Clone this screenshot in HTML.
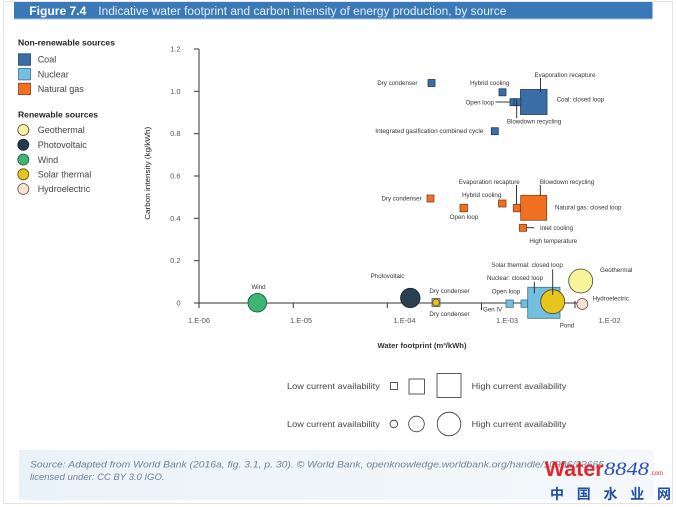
<!DOCTYPE html>
<html><head><meta charset="utf-8"><style>
html,body{margin:0;padding:0;background:#fff;}
svg{display:block;font-family:"Liberation Sans","Noto Sans CJK SC",sans-serif;}
</style></head><body>
<svg width="676" height="507" viewBox="0 0 676 507" xmlns="http://www.w3.org/2000/svg">
<defs>
<linearGradient id="src" x1="0" x2="1" y1="0" y2="0">
<stop offset="0" stop-color="#eaf2f9"/><stop offset="1" stop-color="#f4f8fb"/>
</linearGradient>
</defs>
<rect x="3.5" y="1.5" width="669" height="502" fill="#fff" stroke="#e4e4e4" stroke-width="1"/>
<!-- header -->
<rect x="14" y="2" width="638.5" height="16.5" fill="#3b78b8"/>
<rect x="14" y="18.5" width="638.5" height="1" fill="#a9c6e4"/>
<text x="29.3" y="15" font-size="12" font-weight="bold" fill="#fff" textLength="57" lengthAdjust="spacingAndGlyphs">Figure 7.4</text>
<text x="98.3" y="15" font-size="11.5" fill="#e8f0f8" textLength="408" lengthAdjust="spacingAndGlyphs">Indicative water footprint and carbon intensity of energy production, by source</text>

<!-- left legend -->
<text x="18" y="45.7" font-size="8.5" font-weight="bold" fill="#222" textLength="97" lengthAdjust="spacingAndGlyphs">Non-renewable sources</text>
<rect x="18.5" y="53.8" width="12" height="11.5" fill="#3b6ea6" stroke="#233f5f" stroke-width="0.8"/>
<rect x="18.5" y="68.4" width="12" height="11.5" fill="#73bfe0" stroke="#3e7590" stroke-width="0.8"/>
<rect x="18.5" y="83.2" width="12" height="11.5" fill="#f26f21" stroke="#7a4420" stroke-width="0.8"/>
<g font-size="9" fill="#444">
<text x="37.7" y="62.5">Coal</text>
<text x="37.7" y="77.3">Nuclear</text>
<text x="37.7" y="92.1">Natural gas</text>
</g>
<text x="18" y="117.3" font-size="8.5" font-weight="bold" fill="#222" textLength="80" lengthAdjust="spacingAndGlyphs">Renewable sources</text>
<circle cx="23.3" cy="130" r="5.5" fill="#f7f49a" stroke="#444" stroke-width="0.8"/>
<circle cx="23.3" cy="144.8" r="5.5" fill="#253a4e" stroke="#1a2633" stroke-width="0.8"/>
<circle cx="23.3" cy="159.6" r="5.5" fill="#3fb574" stroke="#1f5a3a" stroke-width="0.8"/>
<circle cx="23.3" cy="174.3" r="5.5" fill="#e8c41e" stroke="#5c4e10" stroke-width="0.8"/>
<circle cx="23.3" cy="189" r="5.5" fill="#fbe2d0" stroke="#555" stroke-width="0.8"/>
<g font-size="9" fill="#444">
<text x="37.7" y="133.2">Geothermal</text>
<text x="37.7" y="148">Photovoltaic</text>
<text x="37.7" y="162.8">Wind</text>
<text x="37.7" y="177.5">Solar thermal</text>
<text x="37.7" y="192.2">Hydroelectric</text>
</g>

<!-- axes -->
<g stroke="#333" stroke-width="1">
<line x1="199" y1="49" x2="199" y2="303"/>
<line x1="194" y1="303" x2="577" y2="303"/>
<line x1="194" y1="49" x2="199" y2="49"/>
<line x1="194" y1="91.3" x2="199" y2="91.3"/>
<line x1="194" y1="133.7" x2="199" y2="133.7"/>
<line x1="194" y1="176" x2="199" y2="176"/>
<line x1="194" y1="218.3" x2="199" y2="218.3"/>
<line x1="194" y1="260.7" x2="199" y2="260.7"/>
<line x1="199" y1="303" x2="199" y2="308"/>
<line x1="293.3" y1="303" x2="293.3" y2="308"/>
<line x1="387.3" y1="303" x2="387.3" y2="308"/>
<line x1="481.5" y1="303" x2="481.5" y2="310"/>
<line x1="575" y1="301" x2="575" y2="308"/>
</g>
<g font-size="7.5" fill="#555" text-anchor="end">
<text x="180.5" y="51.6">1.2</text>
<text x="180.5" y="93.9">1.0</text>
<text x="180.5" y="136.2">0.8</text>
<text x="180.5" y="178.5">0.6</text>
<text x="180.5" y="220.8">0.4</text>
<text x="180.5" y="263.1">0.2</text>
<text x="180.5" y="305.5">0</text>
</g>
<g font-size="7.5" fill="#555" text-anchor="middle">
<text x="199" y="323">1.E-06</text>
<text x="301" y="323">1.E-05</text>
<text x="404.5" y="323">1.E-04</text>
<text x="507" y="323">1.E-03</text>
<text x="609.5" y="323">1.E-02</text>
</g>
<text transform="translate(149.8,173.3) rotate(-90)" font-size="7" fill="#222" text-anchor="middle" textLength="93" lengthAdjust="spacingAndGlyphs">Carbon intensity (kg/kWh)</text>
<text x="422" y="348.2" font-size="7" font-weight="bold" fill="#333" text-anchor="middle" textLength="89" lengthAdjust="spacingAndGlyphs">Water footprint (m³/kWh)</text>

<!-- Coal -->
<g fill="#3b6ea6" stroke="#1d3a5c" stroke-width="0.8">
<rect x="428" y="79.5" width="7" height="7"/>
<rect x="499" y="88.8" width="7" height="7"/>
<rect x="520.5" y="89.5" width="26.5" height="25"/>
<rect x="510" y="98.7" width="7" height="7"/>
<rect x="514" y="98.7" width="7" height="7"/>
<rect x="491.3" y="127.7" width="7" height="7"/>
</g>
<g stroke="#222" stroke-width="0.9">
<line x1="495.5" y1="102" x2="510" y2="102"/>
<line x1="540.5" y1="78" x2="540.5" y2="92"/>
<line x1="516.7" y1="100" x2="516.7" y2="118"/>
</g>
<g font-size="6.2" fill="#333">
<text x="417.5" y="84.9" text-anchor="end">Dry condenser</text>
<text x="489.7" y="84.9" text-anchor="middle">Hybrid cooling</text>
<text x="494" y="104.5" text-anchor="end">Open loop</text>
<text x="565" y="77.2" text-anchor="middle">Evaporation recapture</text>
<text x="534" y="123.5" text-anchor="middle">Blowdown recycling</text>
<text x="556.7" y="101.5">Coal: closed loop</text>
<text x="483.3" y="133.2" text-anchor="end" textLength="108" lengthAdjust="spacingAndGlyphs">Integrated gasification combined cycle</text>
</g>

<!-- Natural gas -->
<g fill="#f07020" stroke="#7a4420" stroke-width="0.8">
<rect x="427" y="195" width="7" height="7"/>
<rect x="460" y="204.3" width="7.5" height="7.5"/>
<rect x="498.5" y="200" width="7.5" height="7"/>
<rect x="513.3" y="204.3" width="7" height="7.5"/>
<rect x="520.7" y="195.3" width="26" height="25"/>
<rect x="519.3" y="224.3" width="7.3" height="7"/>
</g>
<g stroke="#222" stroke-width="0.9">
<line x1="516.5" y1="185" x2="516.5" y2="204.3"/>
<line x1="540.3" y1="185" x2="540.3" y2="196"/>
<line x1="526.6" y1="227.7" x2="534" y2="227.7"/>
</g>
<g font-size="6.2" fill="#333">
<text x="421.7" y="200.5" text-anchor="end">Dry condenser</text>
<text x="464" y="218.9" text-anchor="middle">Open loop</text>
<text x="481.7" y="197.2" text-anchor="middle">Hybrid cooling</text>
<text x="489.3" y="183.9" text-anchor="middle">Evaporation recapture</text>
<text x="567" y="183.9" text-anchor="middle">Blowdown recycling</text>
<text x="555" y="209.5">Natural gas: closed loop</text>
<text x="540" y="229.9">Inlet cooling</text>
<text x="553.3" y="243.2" text-anchor="middle">High temperature</text>
</g>

<!-- bottom series -->
<circle cx="257.3" cy="302.7" r="9.3" fill="#3fb574" stroke="#1f5a3a" stroke-width="0.9"/>
<circle cx="410.3" cy="298" r="9.7" fill="#2b3f52" stroke="#1a2633" stroke-width="0.9"/>
<rect x="432" y="298.5" width="8" height="8" fill="#b9b488" stroke="#555" stroke-width="0.8"/>
<circle cx="436" cy="302.5" r="3.3" fill="#e8c41e" stroke="#5c4e10" stroke-width="0.7"/>
<rect x="506" y="300" width="7.3" height="7.3" fill="#73bfe0" stroke="#3e6f8a" stroke-width="0.8"/>
<rect x="521" y="300" width="6.7" height="7.3" fill="#73bfe0" stroke="#3e6f8a" stroke-width="0.8"/>
<rect x="527.7" y="287.3" width="32.3" height="31" fill="#73bfe0" stroke="#3e6f8a" stroke-width="0.8"/>
<circle cx="552.7" cy="301.7" r="12" fill="#e8c41e" stroke="#5c4e10" stroke-width="0.9"/>
<circle cx="580.7" cy="281" r="12" fill="#f7f49a" stroke="#444" stroke-width="0.8"/>
<circle cx="582.3" cy="304" r="5.5" fill="#fbe2d0" stroke="#555" stroke-width="0.8"/>
<g stroke="#222" stroke-width="0.9">
<line x1="534.3" y1="281.7" x2="534.3" y2="293.3"/>
<line x1="552.7" y1="269.3" x2="552.7" y2="295"/>
</g>
<g font-size="6.2" fill="#333">
<text x="258.5" y="288.9" text-anchor="middle">Wind</text>
<text x="387.5" y="278.2" text-anchor="middle">Photovoltaic</text>
<text x="449.5" y="293.2" text-anchor="middle">Dry condenser</text>
<text x="449.5" y="316.2" text-anchor="middle">Dry condenser</text>
<text x="483" y="311.5">Gen IV</text>
<text x="506" y="293.5" text-anchor="middle">Open loop</text>
<text x="515" y="280" text-anchor="middle">Nuclear: closed loop</text>
<text x="527" y="267" text-anchor="middle">Solar thermal: closed loop</text>
<text x="567" y="327.7" text-anchor="middle">Pond</text>
<text x="600" y="271.9">Geothermal</text>
<text x="592.7" y="300.5">Hydroelectric</text>
</g>

<!-- availability legend -->
<g fill="#fff" stroke="#333" stroke-width="0.8">
<rect x="390.5" y="382.5" width="7" height="7"/>
<rect x="409" y="379" width="15.5" height="15"/>
<rect x="437" y="373.5" width="24" height="24"/>
<circle cx="393.8" cy="424" r="3.8"/>
<circle cx="416.5" cy="424" r="7.8"/>
<circle cx="449" cy="424" r="11.8"/>
</g>
<g font-size="8.5" fill="#444">
<text x="287" y="389" textLength="92.8" lengthAdjust="spacingAndGlyphs">Low current availability</text>
<text x="471.7" y="389" textLength="94.6" lengthAdjust="spacingAndGlyphs">High current availability</text>
<text x="287" y="427" textLength="92.8" lengthAdjust="spacingAndGlyphs">Low current availability</text>
<text x="471.7" y="427" textLength="94.6" lengthAdjust="spacingAndGlyphs">High current availability</text>
</g>

<!-- source -->
<rect x="19" y="450" width="635" height="50" fill="url(#src)"/>
<g font-size="9.5" font-style="italic" fill="#6d8296">
<text x="30" y="467.4" textLength="574" lengthAdjust="spacingAndGlyphs">Source: Adapted from World Bank (2016a, fig. 3.1, p. 30). © World Bank, openknowledge.worldbank.org/handle/10986/23665</text>
<text x="30" y="480">licensed under: CC BY 3.0 IGO.</text>
</g>

<!-- watermark -->
<text x="544.7" y="476" font-size="21" font-weight="bold" fill="#e0282c" textLength="59" lengthAdjust="spacingAndGlyphs">Water</text>
<text x="604" y="475" font-size="19" font-style="italic" fill="#2a4fb0" font-family="Liberation Serif, serif" textLength="45" lengthAdjust="spacingAndGlyphs">8848</text>
<text x="650" y="475" font-size="6" fill="#e0282c">.com</text>
<text x="550" y="499" font-size="14" font-weight="bold" fill="#1f4ea8" font-family="Liberation Sans, Noto Sans CJK SC, sans-serif" textLength="121" lengthAdjust="spacing">中国水业网</text>
</svg>
</body></html>
